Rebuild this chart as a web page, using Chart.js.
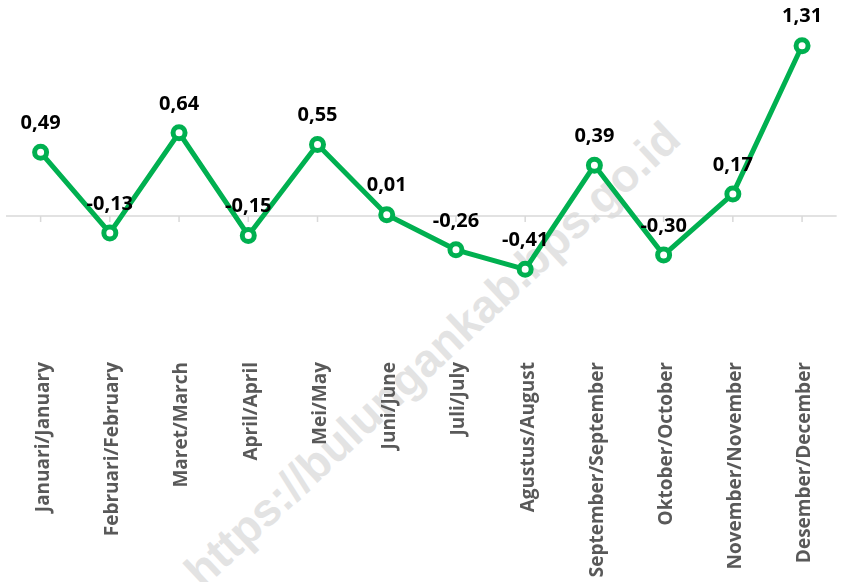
<!DOCTYPE html>
<html>
<head>
<meta charset="utf-8">
<script src="https://cdn.jsdelivr.net/npm/chart.js@4"></script>
<style>
    body { margin: 0; background: #fff; }
    .wrap { position: relative; width: 841px; height: 582px; overflow: hidden; }
    .wrap canvas { position: relative; z-index: 1; }
    .watermark {
        position: absolute; left: 432px; top: 354px; z-index: 0;
        transform: translate(-50%, -50%) rotate(-43deg);
        font: bold 46px "Liberation Sans", Arial, sans-serif;
        color: #e3e3e3;
        white-space: nowrap; pointer-events: none;
    }
</style>
</head>
<body>
<div class="wrap">
    <div class="watermark">https://bulungankab.bps.go.id</div>
    <canvas id="inflasiChart" width="841" height="582"></canvas>
</div>
<script>
const months = [
    'Januari/January', 'Februari/February', 'Maret/March', 'April/April',
    'Mei/May', 'Juni/June', 'Juli/July', 'Agustus/August',
    'September/September', 'Oktober/October', 'November/November', 'Desember/December'
];
const inflasi = [0.49, -0.13, 0.64, -0.15, 0.55, 0.01, -0.26, -0.41, 0.39, -0.30, 0.17, 1.31];

const green = '#00B050';
const axisGray = '#D9D9D9';

// zero line with small tick marks at each month
const zeroAxis = {
    id: 'zeroAxis',
    beforeDatasetsDraw(chart) {
        const { ctx, chartArea, scales } = chart;
        const y0 = scales.y.getPixelForValue(0);
        ctx.save();
        ctx.strokeStyle = axisGray;
        ctx.lineWidth = 1.5;
        ctx.beginPath();
        ctx.moveTo(chartArea.left, y0);
        ctx.lineTo(chartArea.right, y0);
        months.forEach((m, i) => {
            const x = scales.x.getPixelForValue(i);
            ctx.moveTo(x, y0);
            ctx.lineTo(x, y0 + 6);
        });
        ctx.stroke();
        ctx.restore();
    }
};

// value labels above each point
const valueLabels = {
    id: 'valueLabels',
    afterDatasetsDraw(chart) {
        const { ctx } = chart;
        const meta = chart.getDatasetMeta(0);
        ctx.save();
        ctx.font = 'bold 20px "Open Sans", sans-serif';
        ctx.fillStyle = '#000';
        ctx.textAlign = 'center';
        ctx.textBaseline = 'middle';
        meta.data.forEach((pt, i) => {
            const txt = inflasi[i].toFixed(2).replace('.', ',');
            ctx.fillText(txt, pt.x, pt.y - 29);
        });
        ctx.restore();
    }
};

new Chart(document.getElementById('inflasiChart'), {
    type: 'line',
    data: {
        labels: months,
        datasets: [{
            data: inflasi,
            borderColor: green,
            borderWidth: 5,
            pointRadius: 6,
            pointBorderWidth: 5,
            pointBackgroundColor: '#fff',
            pointBorderColor: green,
            tension: 0
        }]
    },
    options: {
        responsive: false,
        animation: false,
        layout: { autoPadding: false, padding: { top: 21, left: 6, right: 3, bottom: 0 } },
        plugins: {
            legend: { display: false },
            tooltip: { enabled: false }
        },
        scales: {
            x: {
                offset: true,
                grid: { display: false, drawTicks: false },
                border: { display: false },
                ticks: {
                    minRotation: 90,
                    maxRotation: 90,
                    autoSkip: false,
                    padding: 16,
                    labelOffset: 3,
                    color: '#595959',
                    font: { family: '"Open Sans", sans-serif', size: 19, weight: 'bold' }
                },
                afterFit(scale) {
                    scale.height = 236;
                }
            },
            y: {
                display: false,
                min: -1,
                max: 1.5
            }
        }
    },
    plugins: [zeroAxis, valueLabels]
});
</script>
</body>
</html>
